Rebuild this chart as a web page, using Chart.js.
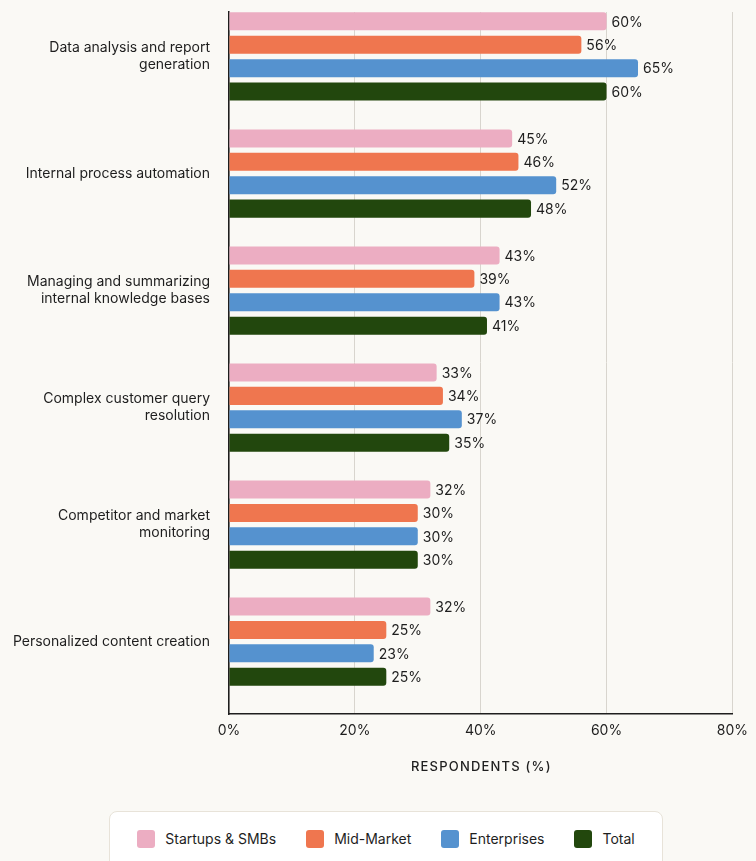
<!DOCTYPE html>
<html>
<head>
<meta charset="utf-8">
<script src="https://cdn.jsdelivr.net/npm/chart.js@4.4.1/dist/chart.umd.min.js"></script>
<style>
  html, body { margin: 0; padding: 0; background: #faf9f5; overflow: hidden; }
  body { width: 756px; height: 861px; position: relative; font-family: Inter, "Noto Sans", sans-serif; }
  #wrap { position: absolute; left: 0; top: 0; width: 756px; height: 800px; }
  #legend {
    position: absolute; left: 109px; top: 811px; width: 554px; height: 70px;
    background: #ffffff; border: 1px solid #e8e3d9; border-radius: 8px;
    display: flex; justify-content: center; align-items: flex-start; padding-top: 17px; box-sizing: border-box;
    gap: 30px; font-size: 14px; color: #1e1e1e;
  }
  .item { display: flex; align-items: center; gap: 10px; height: 19px; }
  .sw { width: 18px; height: 18px; border-radius: 3px; }
</style>
</head>
<body>
<div id="wrap"><canvas id="chart"></canvas></div>
<div id="legend"></div>
<script>
// categories, one array of lines per label
const categories = [
  ['Data analysis and report', 'generation'],
  ['Internal process automation'],
  ['Managing and summarizing', 'internal knowledge bases'],
  ['Complex customer query', 'resolution'],
  ['Competitor and market', 'monitoring'],
  ['Personalized content creation'],
];
const seriesNames = ['Startups & SMBs', 'Mid-Market', 'Enterprises', 'Total'];
const seriesColors = ['#ecadc2', '#ef764f', '#5592cf', '#22470d'];
const startups = [60, 45, 43, 33, 32, 32];
const midMarket = [56, 46, 39, 34, 30, 25];
const enterprises = [65, 52, 43, 37, 30, 23];
const total = [60, 48, 41, 35, 30, 25];
const xTicks = [0, 20, 40, 60, 80];
const xTitle = 'RESPONDENTS (%)';

const seriesValues = [startups, midMarket, enterprises, total];
const textColor = '#1e1e1e';
const fontFamily = 'Inter, "Noto Sans", sans-serif';
const baseFont = { family: fontFamily, size: 14 };

const datasets = seriesNames.map((name, s) => ({
  label: name,
  data: seriesValues[s].map((v, i) => ({ x: v, y: i })),
  backgroundColor: seriesColors[s],
  borderRadius: 3,
  borderSkipped: 'start',
  categoryPercentage: 0.8,
  barPercentage: 0.77,
}));

// value labels at bar ends + spaced axis title
const extras = {
  id: 'extras',
  afterDatasetsDraw(chart) {
    const ctx = chart.ctx;
    ctx.save();
    ctx.font = '14px ' + fontFamily;
    ctx.fillStyle = textColor;
    ctx.textBaseline = 'middle';
    ctx.textAlign = 'left';
    chart.data.datasets.forEach((ds, d) => {
      chart.getDatasetMeta(d).data.forEach((bar, i) => {
        ctx.fillText(ds.data[i].x + '%', bar.x + 5, bar.y + 1);
      });
    });
    ctx.restore();
  },
  afterDraw(chart) {
    const ctx = chart.ctx;
    const area = chart.chartArea;
    ctx.save();
    ctx.font = '500 13px ' + fontFamily;
    ctx.letterSpacing = '1.2px';
    ctx.fillStyle = textColor;
    ctx.textBaseline = 'middle';
    ctx.textAlign = 'center';
    ctx.fillText(xTitle, (area.left + area.right) / 2 + 0.6, area.bottom + 53);
    ctx.restore();
  }
};

const chart = new Chart(document.getElementById('chart'), {
  type: 'bar',
  data: { datasets: datasets },
  plugins: [extras],
  options: {
    indexAxis: 'y',
    responsive: true,
    maintainAspectRatio: false,
    animation: false,
    layout: { padding: { top: 12, right: 22, bottom: 53, left: 0 } },
    plugins: { legend: { display: false }, tooltip: { enabled: false } },
    scales: {
      x: {
        type: 'linear',
        min: 0,
        max: 80,
        afterBuildTicks(scale) { scale.ticks = xTicks.map(v => ({ value: v })); },
        grid: { color: '#d8d5ce', lineWidth: 1, drawTicks: false },
        border: { color: '#1e1e1e', width: 1.5 },
        ticks: { padding: 8, color: textColor, font: baseFont, callback: v => v + '%' },
      },
      y: {
        type: 'linear',
        reverse: true,
        offset: false,
        min: -0.38,
        max: 5.62,
        afterBuildTicks(scale) { scale.ticks = categories.map((c, i) => ({ value: i })); },
        afterFit(scale) {
          scale.width = 229;
          scale.paddingTop = 0;
          scale.paddingBottom = 0;
        },
        grid: { display: false, drawTicks: false, offset: false },
        border: { color: '#1e1e1e', width: 1.5 },
        ticks: {
          padding: 19,
          color: textColor,
          font: baseFont,
          callback: v => categories[v],
        },
      },
    },
  },
});

// html legend built from the series
const legend = document.getElementById('legend');
seriesNames.forEach((name, s) => {
  const item = document.createElement('div');
  item.className = 'item';
  const sw = document.createElement('div');
  sw.className = 'sw';
  sw.style.background = seriesColors[s];
  const label = document.createElement('span');
  label.textContent = name;
  item.appendChild(sw);
  item.appendChild(label);
  legend.appendChild(item);
});
</script>
</body>
</html>
